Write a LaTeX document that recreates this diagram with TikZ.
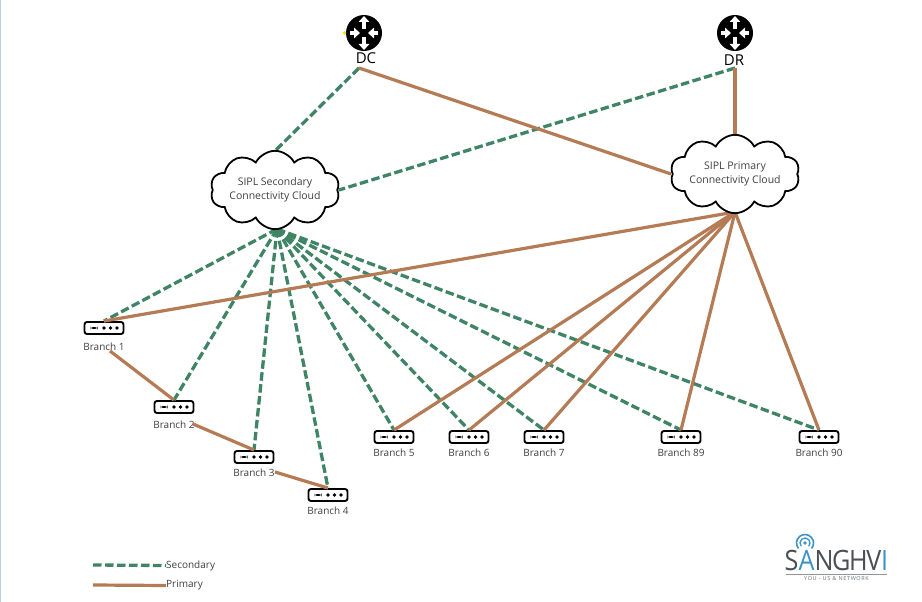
\documentclass[tikz,border=0pt]{standalone}
\usepackage{fontspec}
\setmainfont{Open Sans}
\usetikzlibrary{shapes.symbols,arrows.meta}
\definecolor{secgreen}{HTML}{3F8565}
\definecolor{primbrown}{HTML}{B47B55}
\definecolor{logoblue}{HTML}{3C93C8}
\definecolor{logogray}{HTML}{4A4F55}
\definecolor{edgeblue}{HTML}{B5D3EA}
\newcommand{\cloudline}[1]{\makebox[88pt]{#1}}
\tikzset{
  secondary/.style={draw=secgreen, line width=3.3pt, dash pattern=on 8.5pt off 3.5pt},
  primary/.style={draw=primbrown, line width=3.2pt},
  sipl/.style={cloud, cloud puffs=10, cloud puff arc=125, aspect=2.15, draw=black, fill=white, line width=1.8pt,
    align=center, font=\fontsize{10.5}{13.5}\selectfont, text=black!75, inner sep=0pt, minimum width=120pt, minimum height=64pt},
  router/.style={circle, fill=black, minimum size=36pt, inner sep=0pt},
  branchbox/.style={draw=black, fill=white, line width=1.9pt, rounded corners=2.5pt, minimum width=39pt, minimum height=12pt, inner sep=0pt,
    path picture={
      \fill[black] ([xshift=-10pt]path picture bounding box.center) ++(-3.5pt,-0.9pt) rectangle ++(7pt,1.8pt);
      \foreach \d in {0,6.5,13}{\fill[black] ([xshift=\d pt]path picture bounding box.center) circle[radius=1.8pt];}
    }},
  branchlabel/.style={font=\fontsize{10}{12}\selectfont, text=black!75, inner sep=0pt, yshift=-4.5pt},
  routerarrow/.style={-{Triangle[length=6pt,width=10.5pt]}, white, line width=3.4pt},
}
\begin{document}
\begin{tikzpicture}[x=1pt,y=-1pt]
  \useasboundingbox (0,0) rectangle (922,602);
  \fill[white] (0,0) rectangle (922,602);
  \draw[edgeblue, line width=1.6pt] (0.5,0) -- (0.5,602);

  % hubs
  \node[router] (dc) at (364,33) {};
  \node[router] (dr) at (735,33) {};
  \fill[yellow!80!orange] (344.5,33) circle[radius=1.8];
  \foreach \c in {dc,dr}{
    \draw[routerarrow] ([yshift=4pt]\c.center) -- ++(0,-13);
    \draw[routerarrow] ([yshift=-4pt]\c.center) -- ++(0,13);
    \draw[routerarrow] ([xshift=-14pt]\c.center) -- ++(10,0);
    \draw[routerarrow] ([xshift=14pt]\c.center) -- ++(-10,0);
  }
  \node[font=\fontsize{15}{17}\selectfont, inner sep=0pt] (dclabel) at (366,58) {DC};
  \node[font=\fontsize{15}{17}\selectfont, inner sep=0pt] (drlabel) at (734,60) {DR};

  % anchors where the lines meet
  \coordinate (dcfoot) at (359,68);
  \coordinate (drfoot) at (735,68);
  \coordinate (secin) at (275,151);
  \coordinate (secside) at (339,190);
  \coordinate (primside) at (671,174);
  \coordinate (primtop) at (735,136);
  \coordinate (secfan) at (277,229);
  \coordinate (primfan) at (735,212);

  % branches
  \node[branchbox, label={[branchlabel,yshift=-3pt]below:Branch 1}] (b1) at (104,328) {};
  \node[branchbox, label={[branchlabel,yshift=-2.5pt]below:Branch 2}] (b2) at (174,407) {};
  \node[branchbox, label={[branchlabel]below:Branch 3}] (b3) at (254,457) {};
  \node[branchbox, label={[branchlabel]below:Branch 4}] (b4) at (328,495) {};
  \node[branchbox, label={[branchlabel]below:Branch 5}] (b5) at (394,437) {};
  \node[branchbox, label={[branchlabel]below:Branch 6}] (b6) at (469,437) {};
  \node[branchbox, label={[branchlabel]below:Branch 7}] (b7) at (544,437) {};
  \node[branchbox, label={[branchlabel]below:Branch 89}] (b89) at (681,437) {};
  \node[branchbox, label={[branchlabel]below:Branch 90}] (b90) at (819,437) {};
  \coordinate (b1foot) at (110,351);
  \coordinate (b2foot) at (193,424);
  \coordinate (b3foot) at (275,472);

  % links
  \draw[secondary] (dcfoot) -- (secin);
  \draw[secondary] (drfoot) -- (secside);
  \foreach \b in {b1,b2,b3,b4,b5,b6,b7,b89,b90}{\draw[secondary] (secfan) -- (\b.north);}
  \draw[primary] (dcfoot) -- (primside);
  \draw[primary] (drfoot) -- (primtop);
  \foreach \b in {b1,b5,b6,b7,b89,b90}{\draw[primary] (primfan) -- (\b.north);}
  \draw[primary] (b1foot) -- (b2.north);
  \draw[primary] (b2foot) -- (b3.north);
  \draw[primary] (b3foot) -- (b4.north);

  % clouds
  \node[sipl] (seccloud) at (275,190) {\cloudline{SIPL Secondary}\\\cloudline{Connectivity Cloud}};
  \node[sipl] (primcloud) at (735,174) {\cloudline{SIPL Primary}\\\cloudline{Connectivity Cloud}};

  % legend
  \coordinate (secleft) at (93,565);
  \coordinate (primleft) at (93,585);
  \node[anchor=west, font=\fontsize{10}{12}\selectfont, text=black!75, inner sep=0pt] (seclabel) at (166,565.5) {Secondary};
  \node[anchor=west, font=\fontsize{10}{12}\selectfont, text=black!75, inner sep=0pt] (primlabel) at (166,585.5) {Primary};
  \draw[secondary] (secleft) -- (seclabel.west);
  \draw[primary] (primleft) -- (primlabel.west);

  % logo
  \node[font=\fontsize{28}{28}\selectfont, text=logogray, inner sep=0pt] (logo) at (836.5,560.5)
    {\addfontfeature{FakeStretch=0.9,LetterSpace=-5}S\textcolor{logoblue}{A}NGHV\textcolor{logoblue}{I}};
  \draw[logoblue, line width=1.6pt] (805,543) ++(140:8.5) arc[start angle=140, end angle=400, radius=8.5];
  \draw[logoblue, line width=1.3pt] (805,543) ++(140:5) arc[start angle=140, end angle=400, radius=5];
  \fill[logoblue] (805,543) circle[radius=1.8];
  \draw[logogray!60, line width=1pt] (786,574.5) -- (887,574.5);
  \node[font=\fontsize{5.5}{6}\selectfont, text=logogray!80, inner sep=0pt] (tagline) at (836.5,578.5) {\addfontfeature{LetterSpace=12}YOU - US \& NETWORK};
\end{tikzpicture}
\end{document}
